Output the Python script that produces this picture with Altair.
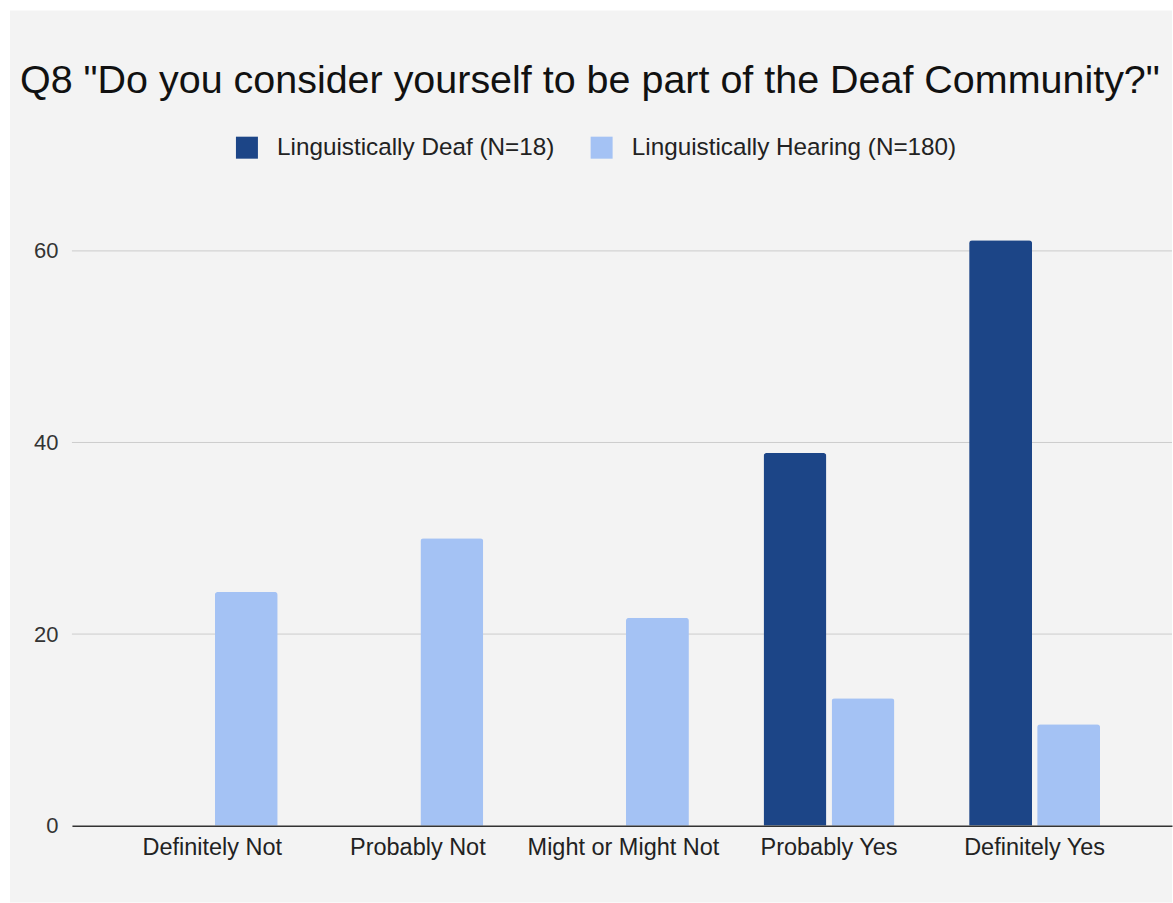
import altair as alt
import pandas as pd

categories = ["Definitely Not", "Probably Not", "Might or Might Not", "Probably Yes", "Definitely Yes"]
series = ["Linguistically Deaf (N=18)", "Linguistically Hearing (N=180)"]
deaf_values = [0, 0, 0, 38.9, 61.1]
hearing_values = [24.4, 30.0, 21.7, 13.3, 10.6]
y_ticks = [0, 20, 40, 60]
grid_values = [20, 40, 60]
colors = ["#1c4587", "#a4c2f4"]
title_text = 'Q8 "Do you consider yourself to be part of the Deaf Community?"'

rows = []
for c, d, h in zip(categories, deaf_values, hearing_values):
    rows.append({"category": c, "group": series[0], "value": d})
    rows.append({"category": c, "group": series[1], "value": h})
df = pd.DataFrame(rows)
grid_df = pd.DataFrame({"value": grid_values})

W = 1101
H = 652
FONT = "Liberation Sans"

y_scale = alt.Scale(domain=[0, 68], nice=False, zero=True)
y_axis = alt.Axis(title=None, values=y_ticks, grid=False, domain=False, ticks=False,
                  labelFontSize=22, labelColor="#333333", labelPadding=14, zindex=1, labelFont=FONT)

bg = alt.Chart(alt.Data(values=[{"a": 1}])).mark_rect(color="#f3f3f3").encode(
    x=alt.value(-62), x2=alt.value(W), y=alt.value(-164), y2=alt.value(729)
)

grid = alt.Chart(grid_df).mark_rule(color="#cccccc", strokeWidth=1).encode(
    y=alt.Y("value:Q", scale=y_scale, axis=y_axis)
)

bars = alt.Chart(df).mark_bar(cornerRadiusTopLeft=3, cornerRadiusTopRight=3).encode(
    x=alt.X("category:N", sort=categories,
            scale=alt.Scale(paddingInner=0.363, paddingOuter=0.357, align=0.51),
            axis=alt.Axis(title=None, labelAngle=0, labelFontSize=23.5, labelColor="#222222",
                          labelPadding=10, ticks=False, domainColor="#333333", domainWidth=1.5,
                          zindex=1, labelFont=FONT, labelLimit=1000)),
    xOffset=alt.XOffset("group:N", sort=series, scale=alt.Scale(paddingInner=0.075, paddingOuter=0)),
    y=alt.Y("value:Q", scale=y_scale, axis=y_axis),
    color=alt.Color("group:N", sort=series, scale=alt.Scale(domain=series, range=colors),
                    legend=alt.Legend(title=None, orient="none", legendX=163, legendY=-39,
                                      direction="horizontal", symbolType="square", symbolSize=484,
                                      symbolStrokeWidth=0, labelFontSize=24.3, labelFont=FONT,
                                      labelColor="#222222", labelOffset=18, columnPadding=35,
                                      padding=0, labelLimit=1000)),
)

chart = alt.layer(bg, grid, bars).properties(
    width=W,
    height=H,
    padding={"left": 10, "top": 10, "right": 0, "bottom": 0},
    title=alt.TitleParams(text=title_text, anchor="start", frame="group", dx=-52, dy=122, offset=0,
                          fontSize=39.5, font=FONT, fontWeight="normal", color="#111111",
                          baseline="alphabetic"),
).configure(
    background="white",
    font=FONT,
    view=alt.ViewConfig(stroke="transparent", strokeWidth=0),
)

chart.save("out.html", embed_options={"renderer": "svg", "actions": False})
